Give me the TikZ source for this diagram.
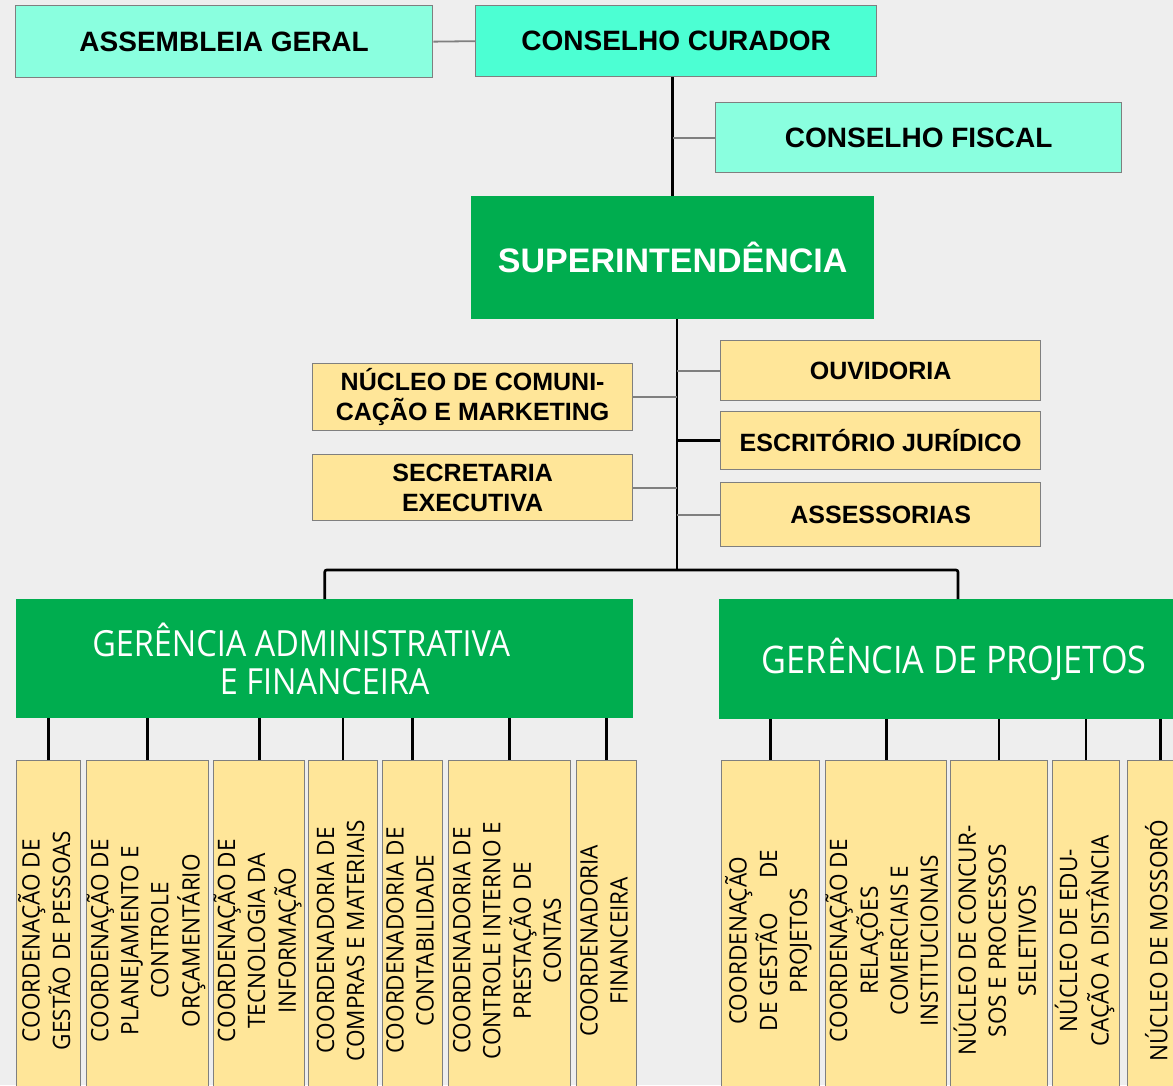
\documentclass[tikz,border=0pt]{standalone}
\usepackage{fontspec}
\usepackage{graphicx}
\newfontfamily\arialf{Liberation Sans}
\newfontfamily\condf{Open Sans}[FakeStretch=0.94]
\newfontfamily\headf{Open Sans}[FakeStretch=0.9]
\definecolor{bgc}{HTML}{EEEEEE}
\definecolor{aqlight}{HTML}{8AFFDF}
\definecolor{aqbright}{HTML}{4CFFD3}
\definecolor{grn}{HTML}{00AD4F}
\definecolor{yel}{HTML}{FFE699}
\definecolor{bgray}{HTML}{7F7F7F}
\newcommand\vtext[1]{\rotatebox{90}{\begin{tabular}{@{}c@{}}#1\end{tabular}}}
\tikzset{
  base/.style={inner sep=0pt, anchor=north west, align=center},
  aqbox/.style={base, draw=bgray, line width=1.3pt, fill=aqlight,
    font=\arialf\bfseries\fontsize{28pt}{32pt}\selectfont},
  ylbox/.style={base, draw=bgray, line width=1.3pt, fill=yel,
    font=\arialf\bfseries\fontsize{25pt}{29.5pt}\selectfont},
  grbox/.style={base, fill=grn, text=white},
  vbox/.style={inner sep=0pt, anchor=north west, draw=bgray, line width=1.3pt, fill=yel,
    minimum height=360pt, font=\condf\fontsize{24pt}{30pt}\selectfont},
  bline/.style={line width=2.6pt, black},
  gline/.style={line width=1.8pt, bgray}
}
\begin{document}
\begin{tikzpicture}[x=1pt,y=-1pt]
\useasboundingbox (0,0) rectangle (1173,1085);
\clip (0,0) rectangle (1173,1085);
\fill[bgc] (0,0) rectangle (1173,1085);

% top level
\node[aqbox, minimum width=417pt, minimum height=72pt] (ag) at (15,5) {ASSEMBLEIA GERAL};
\node[aqbox, fill=aqbright, minimum width=401pt, minimum height=71pt] (cc) at (475,5) {CONSELHO CURADOR};
\node[aqbox, minimum width=406pt, minimum height=70pt] (cf) at (715,102) {CONSELHO FISCAL};
\node[grbox, minimum width=403pt, minimum height=123pt,
  font=\arialf\bfseries\fontsize{34pt}{36pt}\selectfont] (sup) at (471,196) {SUPERINTENDÊNCIA};

% staff units
\node[ylbox, minimum width=320pt, minimum height=67pt] (ncm) at (312,363) {NÚCLEO DE COMUNI-\\CAÇÃO E MARKETING};
\node[ylbox, minimum width=320pt, minimum height=66pt] (sec) at (312,454) {SECRETARIA\\EXECUTIVA};
\node[ylbox, minimum width=320pt, minimum height=60pt] (ouv) at (720,340) {OUVIDORIA};
\node[ylbox, minimum width=320pt, minimum height=58pt] (esc) at (720,411) {ESCRITÓRIO JURÍDICO};
\node[ylbox, minimum width=320pt, minimum height=64pt] (ass) at (720,482) {ASSESSORIAS};

% management
\node[grbox, minimum width=617pt, minimum height=119pt,
  font=\headf\fontsize{36pt}{38pt}\selectfont] (gaf) at (16,599)
  {GERÊNCIA ADMINISTRATIVA\hspace*{47pt}\\E FINANCEIRA};
\node[grbox, minimum width=470pt, minimum height=120pt,
  font=\headf\fontsize{38pt}{40pt}\selectfont] (gp) at (719,599) {GERÊNCIA DE PROJETOS};

% bottom units
\node[vbox, minimum width=64pt]  (b1) at (16,760)  {\vtext{COORDENAÇÃO DE\\GESTÃO DE PESSOAS}};
\node[vbox, minimum width=122pt] (b2) at (86,760)  {\vtext{COORDENAÇÃO DE\\PLANEJAMENTO E\\CONTROLE\\ORÇAMENTÁRIO}};
\node[vbox, minimum width=90pt]  (b3) at (213,760) {\vtext{COORDENAÇÃO DE\\TECNOLOGIA DA\\INFORMAÇÃO}};
\node[vbox, minimum width=69pt]  (b4) at (308,760) {\vtext{COORDENADORIA DE\\COMPRAS E MATERIAIS}};
\node[vbox, minimum width=60pt]  (b5) at (382,760) {\vtext{COORDENADORIA DE\\CONTABILIDADE}};
\node[vbox, minimum width=122pt] (b6) at (448,760) {\vtext{COORDENADORIA DE\\CONTROLE INTERNO E\\PRESTAÇÃO DE\\CONTAS}};
\node[vbox, minimum width=57pt]  (b7) at (576,760) {\vtext{COORDENADORIA\\FINANCEIRA}};

\node[vbox, minimum width=98pt]  (b8)  at (721,760)  {\vtext{COORDENAÇÃO\\DE GESTÃO\hspace{34pt}DE\\PROJETOS}};
\node[vbox, minimum width=120pt] (b9)  at (825,760)  {\vtext{COORDENAÇÃO DE\\RELAÇÕES\\COMERCIAIS E\\INSTITUCIONAIS}};
\node[vbox, minimum width=97pt]  (b10) at (950,760)  {\vtext{NÚCLEO DE CONCUR-\\SOS E PROCESSOS\\SELETIVOS}};
\node[vbox, minimum width=67pt]  (b11) at (1052,760) {\vtext{NÚCLEO DE EDU-\\CAÇÃO A DISTÂNCIA}};
\node[vbox, minimum width=66pt]  (b12) at (1127,760) {\vtext{NÚCLEO DE MOSSORÓ}};

% connectors
\draw[gline] (ag.east) -- (cc.west);
\draw[bline] (sup.north) -- (sup.north |- cc.south);
\draw[gline] (cf.west) -- (cf.west -| sup.north);
\coordinate (tk) at (677,570);
\draw[bline] (sup.south -| tk) -- (tk);
\draw[gline] (ouv.west) -- (ouv.west -| tk);
\draw[bline] (esc.west) -- (esc.west -| tk);
\draw[gline] (ass.west) -- (ass.west -| tk);
\draw[gline] (ncm.east) -- (ncm.east -| tk);
\draw[gline] (sec.east) -- (sec.east -| tk);
\coordinate (gpd) at (958,570);
\draw[bline, rounded corners=2pt] (gaf.north) |- (gpd) -- (gpd |- gp.north);
\foreach \b in {b1,b2,b3,b4,b5,b6,b7}
  \draw[bline] (\b.north) -- (\b.north |- gaf.south);
\foreach \b in {b8,b9,b10,b11,b12}
  \draw[bline] (\b.north) -- (\b.north |- gp.south);
\end{tikzpicture}
\end{document}
